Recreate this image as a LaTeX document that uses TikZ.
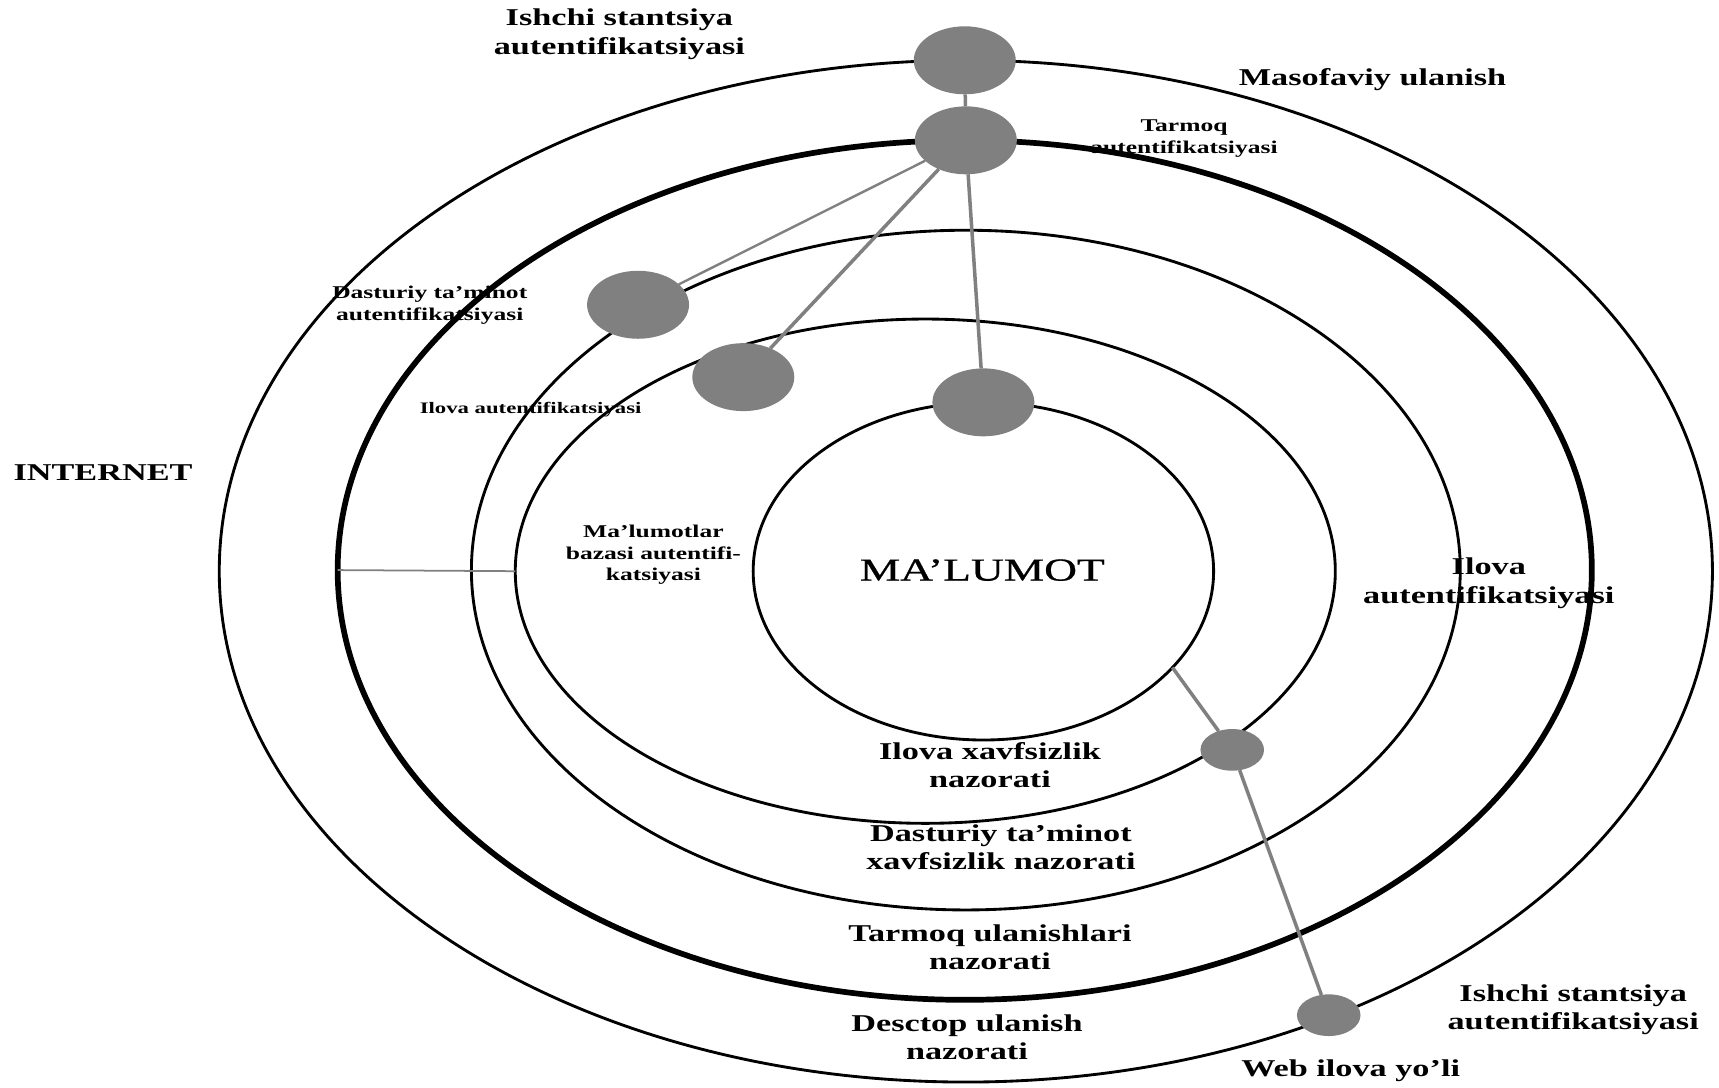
\documentclass[tikz,border=0pt]{standalone}
\usepackage{fontspec}
\setmainfont{Liberation Serif}[FakeStretch=1.42]
\newfontfamily\datafont{Liberation Serif}[FakeStretch=1.42, FakeBold=0.7]
\usetikzlibrary{shapes.geometric}
\definecolor{dotgray}{HTML}{808080}
\begin{document}
\begin{tikzpicture}[x=0.5pt,y=-0.5pt,
  ring/.style={draw=black, ellipse, inner sep=0pt, outer sep=0pt, line width=1.3pt},
  dot/.style={ellipse, fill=dotgray, inner sep=0pt, outer sep=0pt},
  bigdot/.style={dot, minimum width=46.5pt, minimum height=31pt},
  smalldot/.style={dot, minimum width=29pt, minimum height=19pt},
  link/.style={draw=dotgray, line width=1.6pt},
  lbl/.style={font=\fontsize{11}{13}\selectfont\bfseries, align=center, inner sep=0pt},
  note/.style={font=\fontsize{8.2}{10}\selectfont\bfseries, align=center, inner sep=0pt}]
\useasboundingbox (0,0) rectangle (1568,992);

% concentric security rings
\node[ring, minimum width=681pt, minimum height=466pt] (ring1) at (881,521) {};
\node[ring, line width=2.6pt, minimum width=572pt, minimum height=392pt] (ring2) at (880,520) {};
\node[ring, minimum width=451pt, minimum height=310pt] (ring3) at (881,520) {};
\node[ring, minimum width=374pt, minimum height=230pt] (ring4) at (844,521) {};
\node[ring, minimum width=210pt, minimum height=154pt] (ring5) at (897,521) {};

% authentication points
\node[bigdot] (nA) at (880,55) {};
\node[bigdot] (nB) at (881,128) {};
\node[bigdot] (nC) at (582,278) {};
\node[bigdot] (nD) at (678,344) {};
\node[bigdot] (nE) at (897,367) {};
\node[smalldot] (nF) at (1124,684) {};
\node[smalldot] (nG) at (1212,926) {};

% links between points
\draw[link] (nA) -- (nB);
\draw[link, line width=1.1pt] (nB) -- (nC);
\draw[link] (nB) -- (nD);
\draw[link] (nB) -- (nE);
\draw[link] (ring5.-27.2) -- (nF);
\draw[link] (nF) -- (nG);
\draw[link, line width=0.8pt] (ring2.west) -- (ring4.west);

% labels
\node[lbl] (tIshchiTop) at (565,31) {Ishchi stantsiya\\autentifikatsiyasi};
\node[lbl] (tMasofa) at (1252,73) {Masofaviy ulanish};
\node[note] (tTarmoqAuth) at (1080,126) {Tarmoq\\autentifikatsiyasi};
\node[note] (tDastAuth) at (392,278) {Dasturiy ta’minot\\autentifikatsiyasi};
\node[note, font=\fontsize{7.3}{9}\selectfont\bfseries] (tIlovaAuthL) at (484,374) {Ilova autentifikatsiyasi};
\node[lbl, anchor=west] (tInternet) at (12,431) {INTERNET};
\node[note] (tBaza) at (596,506) {Ma’lumotlar\\bazasi autentifi-\\katsiyasi};
\node[font=\datafont\fontsize{14.6}{16}\selectfont, inner sep=0pt] (tData) at (896,520) {MA’LUMOT};
\node[lbl] (tIlovaAuthR) at (1358,532) {Ilova\\autentifikatsiyasi};
\node[lbl] (tIlovaX) at (903,698) {Ilova xavfsizlik\\nazorati};
\node[lbl] (tDastX) at (913,773) {Dasturiy ta’minot\\xavfsizlik nazorati};
\node[lbl] (tTarmoqU) at (903,864) {Tarmoq ulanishlari\\nazorati};
\node[lbl] (tDesc) at (882,946) {Desctop ulanish\\nazorati};
\node[lbl] (tWeb) at (1232,977) {Web ilova yo’li};
\node[lbl] (tIshchiBot) at (1435,921) {Ishchi stantsiya\\autentifikatsiyasi};
\end{tikzpicture}
\end{document}
